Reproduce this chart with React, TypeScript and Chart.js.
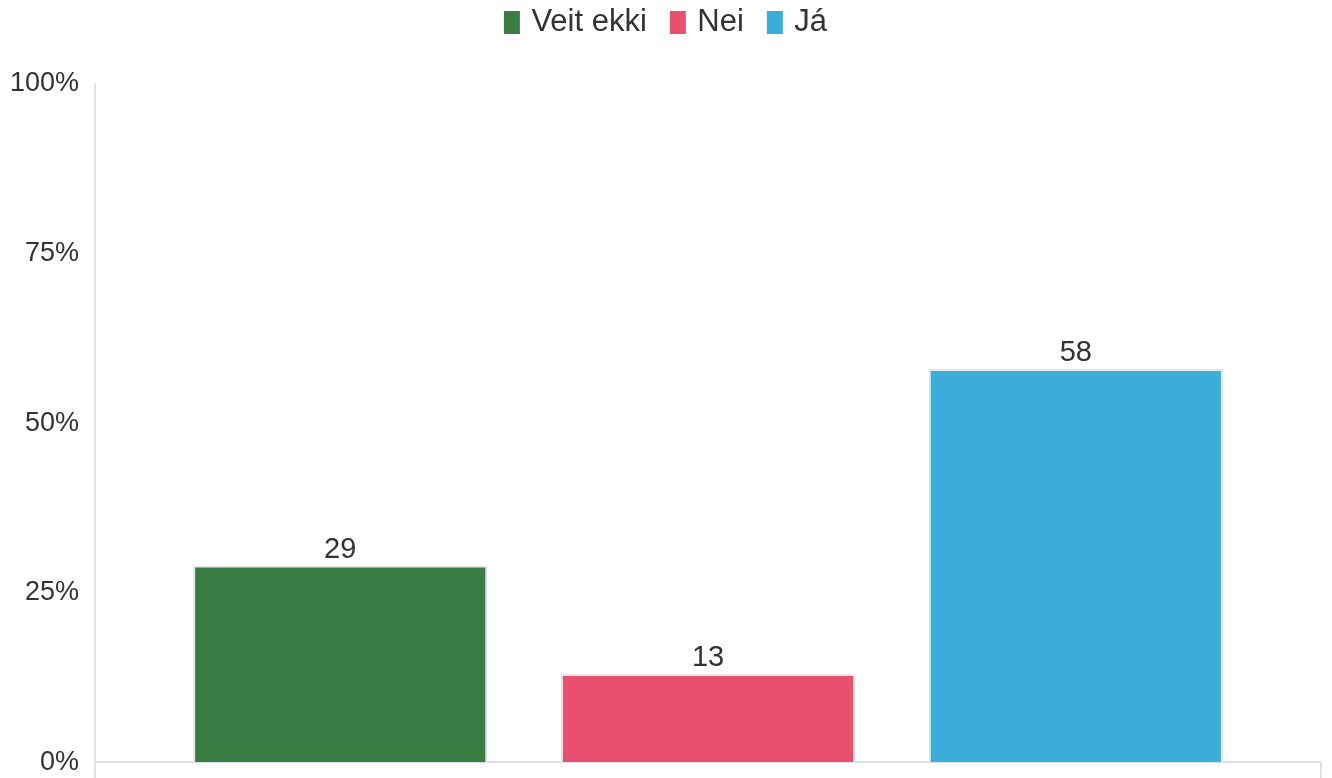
import React, { useEffect, useRef } from "react";
import { Chart, registerables } from "chart.js";

Chart.register(...registerables);

const categories = [""];
const seriesNames = ["Veit ekki", "Nei", "Já"];
const seriesValues = [29, 13, 58];
const seriesColors = ["#3a7d44", "#e8506e", "#3badd9"];
const yTicks = [0, 25, 50, 75, 100];

const FONT = "'Liberation Sans', Arial, Helvetica, sans-serif";

const valueLabels = {
  id: "valueLabels",
  afterDatasetsDraw(chart: any) {
    const ctx = chart.ctx;
    ctx.save();
    ctx.font = `29px ${FONT}`;
    ctx.fillStyle = "#333333";
    ctx.textAlign = "center";
    ctx.textBaseline = "alphabetic";
    chart.data.datasets.forEach((ds: any, i: number) => {
      const meta = chart.getDatasetMeta(i);
      meta.data.forEach((bar: any, j: number) => {
        ctx.fillText(String(ds.data[j]), bar.x, bar.y - 8);
      });
    });
    ctx.restore();
  },
};

const legendMargin = {
  id: "legendMargin",
  beforeInit(chart: any) {
    const orig = chart.legend.fit;
    chart.legend.fit = function () {
      orig.bind(chart.legend)();
      this.height += 36;
    };
  },
  afterLayout(chart: any) {
    chart.legend.left += 10;
    chart.legend.right += 10;
  },
};

export default function App() {
  const ref = useRef<HTMLCanvasElement>(null);
  useEffect(() => {
    document.body.style.margin = "0";
    document.body.style.overflow = "hidden";
    const chart = new Chart(ref.current!, {
      type: "bar",
      data: {
        labels: categories,
        datasets: seriesNames.map((name, i) => ({
          label: name,
          data: [seriesValues[i]],
          backgroundColor: seriesColors[i],
          borderColor: "#e4e6ea",
          borderWidth: 2,
          categoryPercentage: 0.9,
          barPercentage: 0.8,
        })),
      },
      options: {
        animation: false,
        responsive: true,
        maintainAspectRatio: false,
        layout: { padding: { left: -6, right: 11, top: -20, bottom: 0 } },
        plugins: {
          legend: {
            position: "top",
            labels: {
              font: { family: FONT, size: 31 },
              color: "#333333",
              boxWidth: 8,
              boxHeight: 15,
              padding: 27,
              generateLabels: (chart: any) =>
                chart.data.datasets.map((ds: any, i: number) => ({
                  text: ds.label,
                  fillStyle: seriesColors[i],
                  strokeStyle: seriesColors[i],
                  lineWidth: 8,
                  hidden: false,
                  datasetIndex: i,
                  fontColor: "#333333",
                })),
            },
          },
          tooltip: { enabled: false },
        },
        scales: {
          x: {
            grid: {
              display: true,
              drawOnChartArea: false,
              drawTicks: true,
              tickLength: 16,
              color: "#dbe2ea",
              lineWidth: 2,
            },
            border: { display: true, color: "#dbe2ea", width: 2 },
            ticks: { display: false },
          },
          y: {
            min: 0,
            max: 100,
            afterBuildTicks: (axis: any) => {
              axis.ticks = yTicks.map((v) => ({ value: v }));
            },
            grid: { display: false, drawTicks: false },
            border: { display: true, color: "#dbe3ef", width: 2 },
            ticks: {
              font: { family: FONT, size: 27, lineHeight: 0.2 },
              color: "#333333",
              padding: 16,
              callback: (v: any) => v + "%",
            },
          },
        },
      },
      plugins: [valueLabels, legendMargin],
    });
    return () => chart.destroy();
  }, []);
  return (
    <div style={{ position: "fixed", left: 0, top: 0, width: 1332, height: 781 }}>
      <canvas ref={ref} />
    </div>
  );
}
